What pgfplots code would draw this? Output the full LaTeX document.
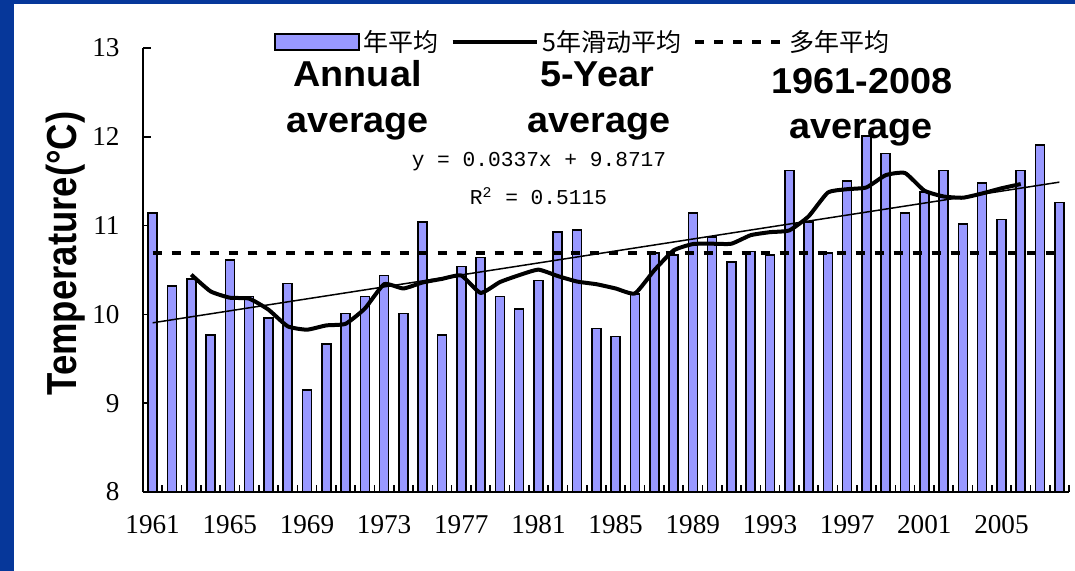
\documentclass[border=0pt]{standalone}
\usepackage{pgfplots}
\pgfplotsset{compat=1.18}
\usepackage{pgfplotstable}
\usepackage{fontspec}
\setmainfont{Liberation Serif}
\newfontfamily\headfont{Liberation Sans}
\newfontfamily\cjk{Noto Sans CJK SC}
\newfontfamily\eqfont{Liberation Mono}
\definecolor{barblue}{HTML}{9999FF}
\definecolor{frameblue}{HTML}{06379A}

% annual mean temperature, 1961-2008 (idx 1 = 1961)
\pgfplotstableread{
idx temp
1 11.14
2 10.32
3 10.40
4 9.77
5 10.61
6 10.20
7 9.96
8 10.35
9 9.15
10 9.67
11 10.01
12 10.20
13 10.44
14 10.01
15 11.04
16 9.77
17 10.54
18 10.64
19 10.20
20 10.06
21 10.38
22 10.93
23 10.95
24 9.84
25 9.75
26 10.23
27 10.69
28 10.67
29 11.14
30 10.87
31 10.59
32 10.71
33 10.67
34 11.62
35 11.04
36 10.69
37 11.50
38 12.01
39 11.81
40 11.14
41 11.38
42 11.62
43 11.02
44 11.48
45 11.07
46 11.62
47 11.91
48 11.26
}\annual

% centred 5-year moving average (1963-2006)
\pgfplotstableread{
idx ma
3 10.448
4 10.260
5 10.188
6 10.178
7 10.054
8 9.866
9 9.828
10 9.876
11 9.894
12 10.066
13 10.340
14 10.292
15 10.360
16 10.400
17 10.438
18 10.242
19 10.364
20 10.442
21 10.504
22 10.432
23 10.370
24 10.340
25 10.292
26 10.236
27 10.496
28 10.720
29 10.792
30 10.796
31 10.796
32 10.892
33 10.926
34 10.946
35 11.104
36 11.372
37 11.410
38 11.430
39 11.568
40 11.592
41 11.394
42 11.328
43 11.314
44 11.362
45 11.420
46 11.468
}\movavg

\begin{document}
\begin{tikzpicture}
\useasboundingbox (0pt,0pt) rectangle (537.5pt,285.5pt);
\fill[white] (0pt,0pt) rectangle (537.5pt,285.5pt);
\fill[frameblue] (0pt,0pt) rectangle (7pt,285.5pt);
\fill[frameblue] (0pt,283.5pt) rectangle (537.5pt,285.5pt);

\begin{axis}[
  at={(71.5pt,39.5pt)}, anchor=south west,
  scale only axis, width=463pt, height=222pt,
  xmin=0.5, xmax=48.5, ymin=8, ymax=13,
  axis lines*=left,
  axis line style={black, line width=1pt, -},
  tick align=inside,
  xtick={1,5,...,45},
  xticklabels={1961,1965,1969,1973,1977,1981,1985,1989,1993,1997,2001,2005},
  major x tick style={draw=none},
  minor xtick={0.5,1.5,...,48.5},
  minor x tick style={black, line width=0.8pt},
  minor tick length=3.5pt,
  ytick={8,9,...,13},
  major y tick style={black, line width=0.75pt},
  major tick length=4pt,
  /pgf/number format/assume math mode=true,
  tick label style={font=\fontsize{13.6pt}{15pt}\selectfont},
  yticklabel style={xshift=-8.2pt},
  xticklabel style={yshift=-8.2pt},
  legend columns=3,
  legend style={at={(0.476,1.0135)}, anchor=center, draw=none, fill=none,
    font=\cjk\fontsize{12.5pt}{14pt}\selectfont,
    /tikz/every even column/.append style={column sep=4pt}},
  legend cell align=left,
]
\addplot[ybar, bar width=4.5pt, fill=barblue, draw=black, line width=0.8pt,
  legend image code/.code={\draw[fill=barblue, draw=black, line width=0.75pt]
    (0pt,-4pt) rectangle (42pt,4pt);}]
  table[x=idx, y=temp] {\annual};
\addlegendentry{年平均}
\addplot[black, line width=2pt, smooth, tension=0.3,
  legend image code/.code={\draw[black, line width=2pt] (0pt,0pt) -- (42pt,0pt);}]
  table[x=idx, y=ma] {\movavg};
\addlegendentry{5年滑动平均}
\addplot[black, line width=2pt, dash pattern=on 4.5pt off 5pt,
  legend image code/.code={\draw[black, line width=2pt, dash pattern=on 4.5pt off 5pt]
    (0pt,0pt) -- (44pt,0pt);}]
  coordinates {(1,10.69) (48,10.69)};
\addlegendentry{多年平均}
% linear trend y = 0.0337x + 9.8717
\addplot[black, line width=0.75pt, forget plot]
  coordinates {(1,9.9054) (48,11.4893)};
\end{axis}

% axis title
\node[rotate=90, anchor=base, inner sep=0pt, xscale=0.87,
  font=\headfont\bfseries\fontsize{21pt}{24pt}\selectfont]
  at (38.5pt,158.75pt) {Temperature(°C)};

% series labels
\begin{scope}[every node/.style={anchor=base, inner sep=0pt, xscale=1.05,
  font=\headfont\bfseries\fontsize{18pt}{21pt}\selectfont}]
\node at (178.75pt,242pt) {Annual};
\node at (178.75pt,219pt) {average};
\node at (298.5pt,242pt) {5-Year};
\node at (299.5pt,219pt) {average};
\node at (431pt,238.5pt) {1961-2008};
\node at (430.5pt,216pt) {average};
\end{scope}

% regression equation
\node[anchor=base, inner sep=0pt, font=\eqfont\fontsize{10.6pt}{12pt}\selectfont]
  at (269.5pt,202pt) {y = 0.0337x + 9.8717};
\node[anchor=base, inner sep=0pt, font=\eqfont\fontsize{10.6pt}{12pt}\selectfont]
  at (269.25pt,183pt) {R\textsuperscript{2} = 0.5115};
\end{tikzpicture}
\end{document}
